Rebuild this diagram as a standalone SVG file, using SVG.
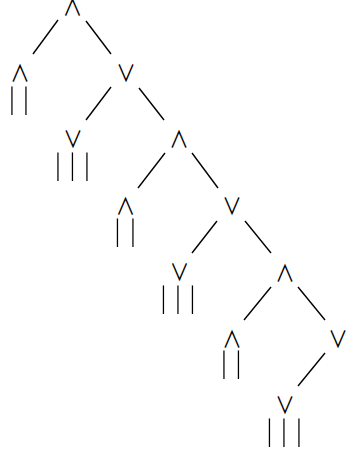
<svg xmlns="http://www.w3.org/2000/svg" width="346" height="453" viewBox="0 0 346 453">
<defs><filter id="gray" x="-20%" y="-20%" width="140%" height="140%"><feOffset dx="0" dy="0"/></filter></defs>
<style>
.op{font-family:"Noto Sans CJK JP","Noto Sans CJK SC",sans-serif;font-size:19.5px;text-anchor:middle;fill:#000}
.bar{font-family:"Noto Sans CJK JP","Noto Sans CJK SC",sans-serif;font-size:20px;fill:#000;filter:url(#gray)}
.e line{stroke:#000;stroke-width:1.4}
</style>
<rect width="346" height="453" fill="#fff"/>
<g class="e" id="connectors">
<line x1="58" y1="20" x2="33" y2="54"/>
<line x1="86" y1="21" x2="111" y2="54"/>
<line x1="111" y1="87" x2="86" y2="120"/>
<line x1="139" y1="88" x2="164" y2="120"/>
<line x1="165" y1="153" x2="138" y2="188"/>
<line x1="192" y1="153" x2="218" y2="188"/>
<line x1="217" y1="221" x2="192" y2="253"/>
<line x1="245" y1="221" x2="271" y2="253"/>
<line x1="271" y1="287" x2="244" y2="320"/>
<line x1="298" y1="287" x2="325" y2="320"/>
<line x1="325" y1="353" x2="298" y2="386"/>
</g>
<g id="n0"><text class="op" transform="translate(72.5,16) scale(1,1.2)">∧</text></g>
<g id="n1"><text class="op" transform="translate(20,82) scale(1,1.2)">∧</text><text class="bar" transform="translate(0,107.5) scale(1,1.28)" x="9.35 23.35">||</text></g>
<g id="n2"><text class="op" transform="translate(126,82) scale(1,1.2)">∨</text></g>
<g id="n3"><text class="op" transform="translate(73,148) scale(1,1.2)">∨</text><text class="bar" transform="translate(0,173.5) scale(1,1.28)" x="55.35 69.85 84.35">|||</text></g>
<g id="n4"><text class="op" transform="translate(179,148) scale(1,1.2)">∧</text></g>
<g id="n5"><text class="op" transform="translate(125.5,215) scale(1,1.2)">∧</text><text class="bar" transform="translate(0,239.5) scale(1,1.28)" x="114.85 130.35">||</text></g>
<g id="n6"><text class="op" transform="translate(232,215) scale(1,1.2)">∨</text></g>
<g id="n7"><text class="op" transform="translate(179.5,281) scale(1,1.2)">∨</text><text class="bar" transform="translate(0,306.5) scale(1,1.28)" x="160.85 175.35 189.85">|||</text></g>
<g id="n8"><text class="op" transform="translate(285,282) scale(1,1.2)">∧</text></g>
<g id="n9"><text class="op" transform="translate(232,348) scale(1,1.2)">∧</text><text class="bar" transform="translate(0,371.5) scale(1,1.28)" x="221.35 235.85">||</text></g>
<g id="n10"><text class="op" transform="translate(338,348) scale(1,1.2)">∨</text></g>
<g id="n11"><text class="op" transform="translate(285,414) scale(1,1.2)">∨</text><text class="bar" transform="translate(0,439.5) scale(1,1.28)" x="266.85 281.35 296.35">|||</text></g>
</svg>
